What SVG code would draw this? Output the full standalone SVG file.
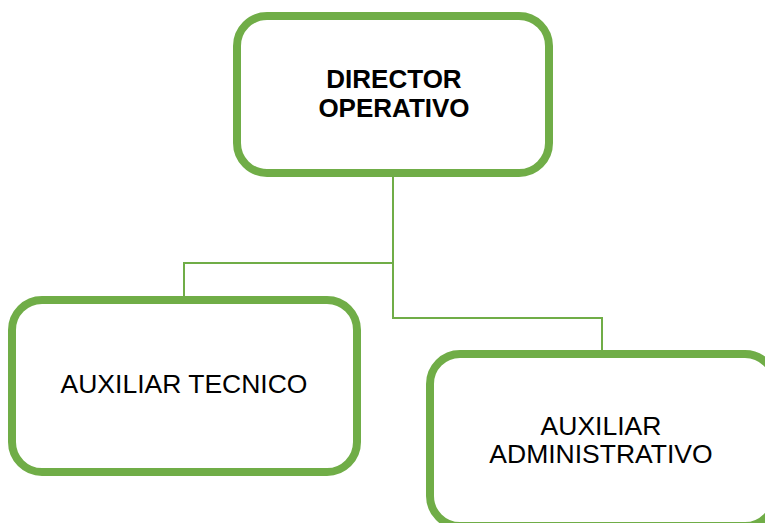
<svg xmlns="http://www.w3.org/2000/svg" width="765" height="523" viewBox="0 0 765 523">
<style>
.box{fill:#fff;stroke:#70AD47;stroke-width:8}
.conn{fill:none;stroke:#70AD47;stroke-width:2}
text{font-family:"Liberation Sans",Arial,sans-serif;font-size:26.5px;fill:#000;text-anchor:middle}
.b{font-weight:bold;font-size:26px}
</style>
<rect width="765" height="523" fill="#fff"/>
<g id="connectors">
<path class="conn" d="M393 177 V318 H602 V350"/>
<path class="conn" d="M393 263 H184 V296"/>
</g>
<g id="director">
<rect class="box" x="237" y="16" width="312" height="157" rx="30"/>
<text class="b" x="394" y="88">DIRECTOR</text>
<text class="b" x="394" y="117">OPERATIVO</text>
</g>
<g id="tecnico">
<rect class="box" x="12" y="300" width="345" height="172" rx="30"/>
<text x="184" y="393">AUXILIAR TECNICO</text>
</g>
<g id="administrativo">
<rect class="box" x="430" y="354" width="345" height="172" rx="30"/>
<text x="601" y="435">AUXILIAR</text>
<text x="601" y="463">ADMINISTRATIVO</text>
</g>
</svg>
